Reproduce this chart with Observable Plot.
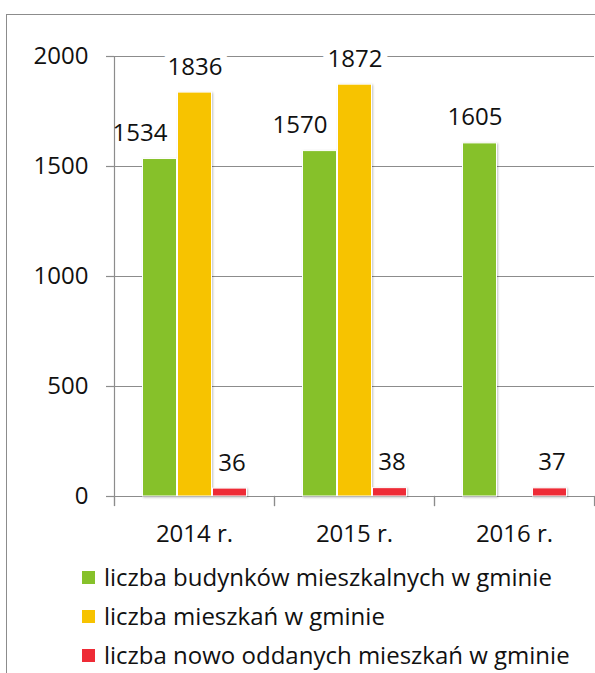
<!DOCTYPE html>
<html><head><meta charset="utf-8">
<script src="https://cdn.jsdelivr.net/npm/d3@7"></script>
<script src="https://cdn.jsdelivr.net/npm/@observablehq/plot@0.6"></script>
<style>
body{margin:0;background:#fff;font-family:"Open Sans",sans-serif;}
#frame{position:absolute;left:6px;top:14px;width:620px;height:700px;border-left:1.5px solid #8c8c8c;border-top:1.5px solid #8c8c8c;}
#chart{position:absolute;left:0;top:0;}
#legend{position:absolute;left:82px;top:564px;font-size:24px;color:#111;font-family:"Open Sans",sans-serif;}
.row{display:flex;align-items:center;height:26px;margin-bottom:13px;white-space:nowrap;}
.row span.t{line-height:26px;}
.sw{width:13px;height:13px;margin-right:9px;flex:none;}
</style></head><body>
<div id="frame"></div><div id="chart"></div><div id="legend"></div>
<script>
const years = ["2014 r.", "2015 r.", "2016 r."];
const series = [
  "liczba budynków mieszkalnych w gminie",
  "liczba mieszkań w gminie",
  "liczba nowo oddanych mieszkań w gminie"
];
const colors = ["#86C12A", "#F7C300", "#EE2B36"];
const buildings = [1534, 1570, 1605];
const flats = [1836, 1872, null];
const newFlats = [36, 38, 37];
const yTicks = [0, 500, 1000, 1500, 2000];

const rows = [];
years.forEach((yr, i) => {
  [buildings[i], flats[i], newFlats[i]].forEach((v, k) => {
    if (v != null) rows.push({year: yr, series: series[k], value: v, hasFlats: flats[i] != null});
  });
});

const W = 595, H = 550, mT = 56, mB = 45, mL = 114, mR = 1, y0px = 496;
const gray = "#8c8c8c", ink = "#111", fs = 24;
const frameH = H - mB - mT;
const tickLen = H - mB - y0px;
const lbl = {fx: "year", x: "series", y: "value", text: d => String(d.value), lineAnchor: "bottom", dy: -18, fontSize: fs, fill: ink};

const chart = Plot.plot({
  width: W, height: H,
  marginTop: mT, marginBottom: mB, marginLeft: mL, marginRight: mR,
  style: {fontFamily: '"Open Sans", sans-serif', fontSize: fs + "px", color: ink, background: "transparent", overflow: "visible"},
  fx: {domain: years, padding: 0, label: null},
  x: {domain: series, paddingInner: 0, paddingOuter: 0.7857, axis: null},
  y: {domain: [0, 2000], range: [y0px, mT], axis: null},
  color: {domain: series, range: colors},
  marks: [
    Plot.ruleY(yTicks, {stroke: gray, strokeWidth: 1.2}),
    Plot.frame({anchor: "left", facetAnchor: "left", stroke: gray, strokeWidth: 1.2}),
    Plot.frame({anchor: "left", insetTop: frameH - tickLen, stroke: gray, strokeWidth: 1.2}),
    Plot.frame({anchor: "right", insetTop: frameH - tickLen, stroke: gray, strokeWidth: 1.2}),
    Plot.axisY({ticks: yTicks, tickSize: 8, tickPadding: 18, stroke: gray, strokeWidth: 1.2, fill: ink, fontSize: fs, label: null, tickFormat: d => String(d)}),
    Plot.axisFx({anchor: "bottom", tickSize: 0, tickPadding: 19, fontSize: fs, label: null, fill: ink}),
    Plot.barY(rows, {fx: "year", x: "series", y: "value", fill: "series", stroke: "white", strokeWidth: 1, insetLeft: 0.5, insetRight: 0.5, imageFilter: "drop-shadow(1px 1px 1px rgba(0,0,0,0.25))"}),
    Plot.text(rows.filter(d => d.series === series[1]), {...lbl, stroke: "white", strokeWidth: 14, paintOrder: "stroke"}),
    Plot.text(rows.filter(d => d.series === series[0] && d.hasFlats), {...lbl, dx: -20}),
    Plot.text(rows.filter(d => d.series === series[0] && !d.hasFlats), {...lbl, dx: -5}),
    Plot.text(rows.filter(d => d.series === series[2]), {...lbl, dx: 2})
  ]
});
document.getElementById("chart").appendChild(chart);

const legend = document.getElementById("legend");
series.forEach((s, i) => {
  const row = document.createElement("div");
  row.className = "row";
  const sw = document.createElement("span");
  sw.className = "sw";
  sw.style.background = colors[i];
  const t = document.createElement("span");
  t.className = "t";
  t.textContent = s;
  row.appendChild(sw); row.appendChild(t);
  legend.appendChild(row);
});
</script>
</body></html>
